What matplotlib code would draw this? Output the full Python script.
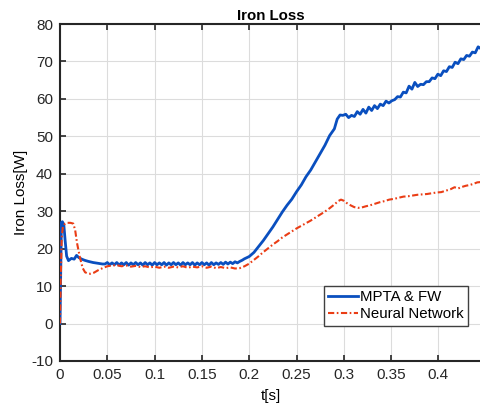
import numpy as np
import matplotlib
matplotlib.use("Agg")
import matplotlib.pyplot as plt

plt.rcParams['font.family'] = ['Liberation Sans', 'DejaVu Sans']
plt.rcParams['axes.unicode_minus'] = False

# ---- MPTA & FW iron loss ----
t_mpta_start = [0, 0.0008, 0.0015, 0.0025, 0.004, 0.0055, 0.007, 0.009, 0.012,
                0.015, 0.0175, 0.02, 0.023, 0.026, 0.03, 0.035, 0.04, 0.045]
loss_mpta_start = [0, 14, 27, 27.2, 26.5, 22, 18, 16.8, 17.4,
                   17.2, 18.2, 17.6, 17.2, 16.9, 16.6, 16.3, 16.1, 15.9]

# steady section, sampled every 2.5 ms from 0.0475 s to 0.19 s
loss_mpta_steady = [15.9, 16.3, 15.7, 16.2, 15.7, 16.3, 15.6, 16.2, 15.7, 16.3,
                    15.6, 16.2, 15.7, 16.3, 15.7, 16.2, 15.6, 16.3, 15.7, 16.2,
                    15.6, 16.3, 15.7, 16.2, 15.7, 16.3, 15.6, 16.2, 15.7, 16.3,
                    15.7, 16.2, 15.6, 16.3, 15.7, 16.2, 15.7, 16.3, 15.6, 16.2,
                    15.7, 16.3, 15.7, 16.2, 15.6, 16.3, 15.7, 16.2, 15.8, 16.3,
                    15.8, 16.4, 15.9, 16.4, 16.0, 16.5, 16.2, 16.6]
t_mpta_steady = np.linspace(0.0475, 0.19, len(loss_mpta_steady))

t_mpta_rise = [0.1925, 0.195, 0.2, 0.205, 0.21, 0.215, 0.22, 0.225, 0.23, 0.235,
               0.24, 0.245, 0.25, 0.255, 0.26, 0.265, 0.27, 0.275, 0.28, 0.285,
               0.29, 0.293, 0.296]
loss_mpta_rise = [16.9, 17.3, 17.9, 19.0, 20.6, 22.2, 24.0, 25.8, 27.8, 29.8,
                  31.6, 33.2, 35.2, 37.0, 39.2, 41.0, 43.2, 45.4, 47.6, 50.2,
                  52.0, 54.6, 55.7]

# field-weakening section, sampled evenly from 0.299 s to 0.445 s
loss_mpta_fw = [55.6, 55.9, 55.0, 55.6, 55.3, 56.6, 55.9, 57.2, 56.2, 57.8,
                56.9, 58.2, 57.4, 58.6, 58.2, 59.4, 58.9, 59.5, 59.8, 60.6,
                60.5, 61.8, 61.6, 63.4, 62.6, 64.4, 63.3, 63.9, 63.8, 64.6,
                64.6, 65.6, 65.4, 66.6, 66.2, 67.5, 67.3, 68.6, 68.4, 69.8,
                69.4, 70.7, 70.5, 71.6, 71.4, 72.5, 72.3, 73.9, 73.4]
t_mpta_fw = np.linspace(0.299, 0.445, len(loss_mpta_fw))

# ---- Neural Network iron loss ----
t_nn_start = [0, 0.0008, 0.0018, 0.003, 0.005, 0.008, 0.011, 0.014, 0.016, 0.018,
              0.021, 0.024, 0.0265, 0.029, 0.032, 0.036, 0.04, 0.045, 0.05, 0.055]
loss_nn_start = [0, 12, 23, 25.8, 26.6, 26.9, 26.9, 26.7, 25.0, 21.5,
                 17.7, 14.8, 13.7, 13.4, 13.3, 13.6, 14.2, 14.8, 15.3, 15.5]

# steady section, sampled every 5 ms from 0.06 s to 0.19 s
loss_nn_steady = [15.6, 15.3, 15.5, 15.2, 15.4, 15.1, 15.3, 15.0, 15.2, 14.9,
                  15.2, 14.9, 15.2, 15.0, 15.3, 14.9, 15.2, 15.0, 15.3, 14.9,
                  15.2, 14.8, 15.1, 14.8, 15.0, 14.7, 14.8]
t_nn_steady = np.linspace(0.06, 0.19, len(loss_nn_steady))

t_nn_rise = [0.195, 0.2, 0.205, 0.21, 0.215, 0.22, 0.225, 0.23, 0.235, 0.24,
             0.245, 0.25, 0.255, 0.26, 0.265, 0.27, 0.275, 0.28, 0.285, 0.29,
             0.294, 0.297, 0.3, 0.303, 0.307, 0.311, 0.315, 0.319, 0.323,
             0.328, 0.333, 0.338, 0.343, 0.348, 0.353, 0.358, 0.363, 0.368,
             0.373, 0.378, 0.383, 0.388, 0.393, 0.398, 0.403, 0.408, 0.413,
             0.417, 0.421, 0.425, 0.429, 0.433, 0.437, 0.441, 0.445]
loss_nn_rise = [15.3, 16.0, 17.0, 18.0, 19.1, 20.1, 21.1, 22.0, 23.0, 23.8,
                24.6, 25.4, 26.1, 26.8, 27.5, 28.3, 29.1, 29.9, 30.8, 31.8,
                32.7, 33.1, 32.8, 32.2, 31.6, 31.1, 30.9, 31.0, 31.3,
                31.6, 32.0, 32.4, 32.7, 33.1, 33.3, 33.6, 33.9, 34.0,
                34.2, 34.4, 34.5, 34.6, 34.8, 35.0, 35.1, 35.5, 35.9,
                36.4, 36.1, 36.5, 36.8, 37.0, 37.3, 37.7, 37.8]

x_ticks = [0, 0.05, 0.1, 0.15, 0.2, 0.25, 0.3, 0.35, 0.4]
x_tick_labels = ['0', '0.05', '0.1', '0.15', '0.2', '0.25', '0.3', '0.35', '0.4']
y_ticks = [-10, 0, 10, 20, 30, 40, 50, 60, 70, 80]

t_mpta = np.concatenate([t_mpta_start, t_mpta_steady, t_mpta_rise, t_mpta_fw])
loss_mpta = np.concatenate([loss_mpta_start, loss_mpta_steady, loss_mpta_rise, loss_mpta_fw])
t_nn = np.concatenate([t_nn_start, t_nn_steady, t_nn_rise])
loss_nn = np.concatenate([loss_nn_start, loss_nn_steady, loss_nn_rise])

fig = plt.figure(figsize=(4.81, 4.09), dpi=100)
ax = fig.add_axes([60 / 481, 48 / 409, 421 / 481, 337 / 409])

ax.plot(t_mpta, loss_mpta, color='#0a4fbf', lw=2.0, label='MPTA & FW', zorder=3)
ax.plot(t_nn, loss_nn, color='#ea3d15', lw=1.5, dashes=(3.0, 1.2, 0.8, 1.2),
        label='Neural Network', zorder=4)

ax.set_xlim(0, 0.445)
ax.set_ylim(-10, 80)
ax.set_xticks(x_ticks)
ax.set_xticklabels(x_tick_labels)
ax.set_yticks(y_ticks)

ax.grid(True, color='#dcdcdc', lw=0.8)
ax.set_axisbelow(True)
ax.tick_params(direction='in', length=4, width=1.2, labelsize=11, colors='#262626',
               top=True, right=False, pad=5)
for side in ('left', 'bottom', 'top'):
    ax.spines[side].set_linewidth(1.5)
    ax.spines[side].set_color('#262626')
ax.spines['right'].set_visible(False)

ax.set_title('Iron Loss', fontsize=10.8, fontweight='bold', pad=3)
ax.set_xlabel('t[s]', fontsize=11, labelpad=5)
ax.set_ylabel('Iron Loss[W]', fontsize=11, labelpad=2)

leg = ax.legend(loc='lower right', bbox_to_anchor=(0.969, 0.104), borderaxespad=0,
                fontsize=10.8, fancybox=False, framealpha=1, edgecolor='#404040',
                handlelength=2.0, handletextpad=0.1, borderpad=0.3, labelspacing=0.2)
leg.get_frame().set_linewidth(1.0)

fig.savefig('out.png', dpi=100)
